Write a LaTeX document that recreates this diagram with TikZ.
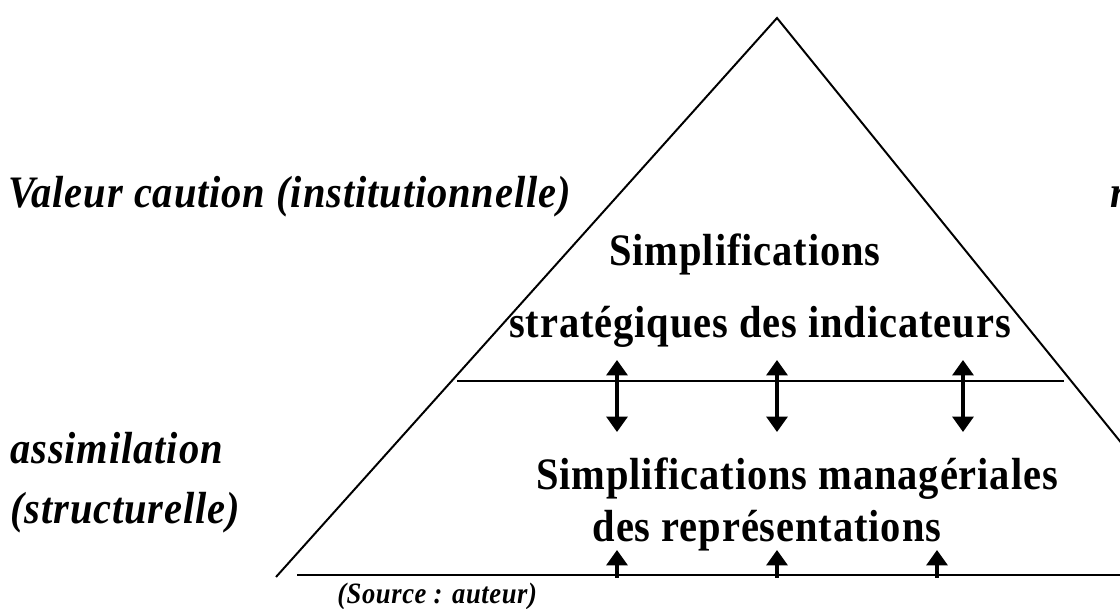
\documentclass[tikz,border=0pt]{standalone}
\usepackage{fontspec}
\setmainfont{Liberation Serif}
\newfontfamily\tallserif[FakeStretch=0.9,LetterSpace=2]{Liberation Serif}
\usetikzlibrary{arrows.meta}
\tikzset{
  pyr/.style={line width=1.4pt},
  level/.style={line width=2pt},
  upflow/.style={line width=2.3pt,-{Triangle[length=11pt,width=15pt]}},
  twoflow/.style={line width=2.3pt,{Triangle[length=11pt,width=15pt]}-{Triangle[length=11pt,width=15pt]}},
  tier/.style={font=\tallserif\fontsize{32}{38}\selectfont\bfseries,anchor=base,inner sep=0pt},
  side/.style={font=\tallserif\fontsize{32}{38}\selectfont\bfseries\itshape,anchor=base west,inner sep=0pt},
  note/.style={font=\tallserif\fontsize{21}{25}\selectfont\bfseries\itshape,anchor=base west,inner sep=0pt}
}
\begin{document}
\begin{tikzpicture}[x=0.025cm,y=-0.025cm]
\clip (0,0) rectangle (1120,609);
\fill [white] (0,0) rectangle (1120,609);
% pyramid
\coordinate (apex) at (777,18);
\coordinate (footL) at (276,577);
\coordinate (footR) at (1230,577);
\draw [pyr] (footL) -- (apex) -- (footR);
% levels
\coordinate (midL) at (457,381);
\coordinate (midR) at (1064,381);
\coordinate (baseL) at (297,575);
\coordinate (baseR) at (1130,575);
\draw [level] (midL) -- (midR);
\draw [level] (baseL) -- (baseR);
% arrows between levels
\coordinate (a1t) at (617,360);
\coordinate (a1b) at (617,432);
\coordinate (a2t) at (777,360);
\coordinate (a2b) at (777,432);
\coordinate (a3t) at (963,360);
\coordinate (a3b) at (963,432);
\draw [twoflow] (a1t) -- (a1b);
\draw [twoflow] (a2t) -- (a2b);
\draw [twoflow] (a3t) -- (a3b);
\coordinate (b1s) at (617,578);
\coordinate (b1e) at (617,550);
\coordinate (b2s) at (777,578);
\coordinate (b2e) at (777,550);
\coordinate (b3s) at (937,578);
\coordinate (b3e) at (937,550);
\draw [upflow] (b1s) -- (b1e);
\draw [upflow] (b2s) -- (b2e);
\draw [upflow] (b3s) -- (b3e);
% texts
\node [tier] (simp) at (745,266) {Simplifications};
\node [tier] (strat) at (760,338) {stratégiques des indicateurs};
\node [tier] (manag) at (797,490) {Simplifications managériales};
\node [tier] (repr) at (767,542) {des représentations};
\node [side] (valeur) at (8,208) {Valeur caution (institutionnelle)};
\node [side] (assim) at (10,464) {assimilation};
\node [side] (struct) at (10,524) {(structurelle)};
\node [side] (cut) at (1110,208) {r};
\node [note] (source) at (337,604) {(Source : auteur)};
\end{tikzpicture}
\end{document}
